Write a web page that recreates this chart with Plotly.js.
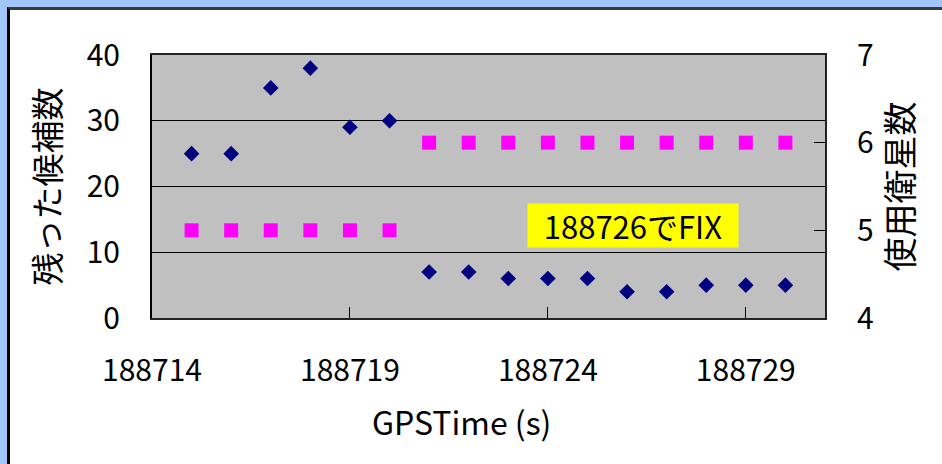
<!DOCTYPE html>
<html>
<head>
<meta charset="utf-8">
<script src="https://cdn.plot.ly/plotly-3.0.1.min.js"></script>
<style>
  html, body { margin: 0; padding: 0; width: 942px; height: 464px; overflow: hidden; background: #A3C6FA; }
  #frame { position: absolute; left: 7px; top: 7px; width: 932px; height: 454px; background: #fff;
           border-left: 3px solid #000; border-top: 3px solid #3a3a3a; }
  #chart { width: 932px; height: 454px; }
</style>
</head>
<body>
<div id="frame"><div id="chart"></div></div>
<script>
const gpsTime = [188715, 188716, 188717, 188718, 188719, 188720, 188721, 188722,
                 188723, 188724, 188725, 188726, 188727, 188728, 188729, 188730];
const remainingCandidates = [25, 25, 35, 38, 29, 30, 7, 7, 6, 6, 6, 4, 4, 5, 5, 5];
const satellitesUsed = [5, 5, 5, 5, 5, 5, 6, 6, 6, 6, 6, 6, 6, 6, 6, 6];
const xTicks = [188714, 188719, 188724, 188729];
const leftTicks = [0, 10, 20, 30, 40];
const rightTicks = [4, 5, 6, 7];
const fixLabel = '188726でFIX';

const FONT = '"Noto Sans CJK JP", "Noto Sans", sans-serif';

const traces = [
  {
    x: gpsTime, y: remainingCandidates, type: 'scatter', mode: 'markers',
    name: '残った候補数', yaxis: 'y',
    marker: { symbol: 'diamond', size: 12, color: '#000080' },
    cliponaxis: false
  },
  {
    x: gpsTime, y: satellitesUsed, type: 'scatter', mode: 'markers',
    name: '使用衛星数', yaxis: 'y2',
    marker: { symbol: 'square', size: 14, color: '#FF00FF' },
    cliponaxis: false
  }
];

const layout = {
  width: 932, height: 454,
  margin: { l: 142, r: 117, t: 45, b: 146 },
  paper_bgcolor: '#ffffff',
  plot_bgcolor: '#C0C0C0',
  showlegend: false,
  font: { family: FONT, color: '#000', size: 30 },
  xaxis: {
    range: [188714, 188731],
    tickvals: xTicks, ticktext: xTicks.map(String),
    ticks: 'inside', ticklen: 11, tickcolor: '#000', tickwidth: 1,
    showgrid: false, zeroline: false,
    showline: true, linecolor: '#222', linewidth: 2, mirror: true,
    tickfont: { family: FONT, size: 30 },
    ticklabelstandoff: 25
  },
  yaxis: {
    range: [0, 40],
    tickvals: leftTicks,
    ticks: 'inside', ticklen: 11, tickcolor: '#000', tickwidth: 1,
    showgrid: true, gridcolor: '#000', gridwidth: 1,
    zeroline: false,
    showline: true, linecolor: '#000', linewidth: 2,
    tickfont: { family: FONT, size: 30 },
    ticklabelstandoff: 24,
    title: { text: '残った候補数', font: { family: FONT, size: 33 }, standoff: 16 }
  },
  yaxis2: {
    range: [4, 7],
    tickvals: rightTicks,
    overlaying: 'y', side: 'right',
    ticks: 'inside', ticklen: 11, tickcolor: '#000', tickwidth: 1,
    showgrid: false, zeroline: false,
    showline: true, linecolor: '#222', linewidth: 2,
    tickfont: { family: FONT, size: 30 },
    ticklabelstandoff: 24,
    title: { text: '使用衛星数', font: { family: FONT, size: 34 }, standoff: 12 }
  },
  annotations: [
    {
      text: fixLabel, xref: 'paper', yref: 'paper',
      x: 0.7147, y: 0.3517, xanchor: 'center', yanchor: 'middle',
      showarrow: false, bgcolor: '#FFFF00', width: 210, height: 43, borderpad: 0,
      font: { family: FONT, size: 31, color: '#000' }
    },
    {
      text: 'GPSTime (s)', xref: 'paper', yref: 'paper',
      x: 0.46, y: -0.39, xanchor: 'center', yanchor: 'middle',
      showarrow: false,
      font: { family: FONT, size: 32, color: '#000' }
    }
  ]
};

Plotly.newPlot('chart', traces, layout, { staticPlot: true, displayModeBar: false });
</script>
</body>
</html>
